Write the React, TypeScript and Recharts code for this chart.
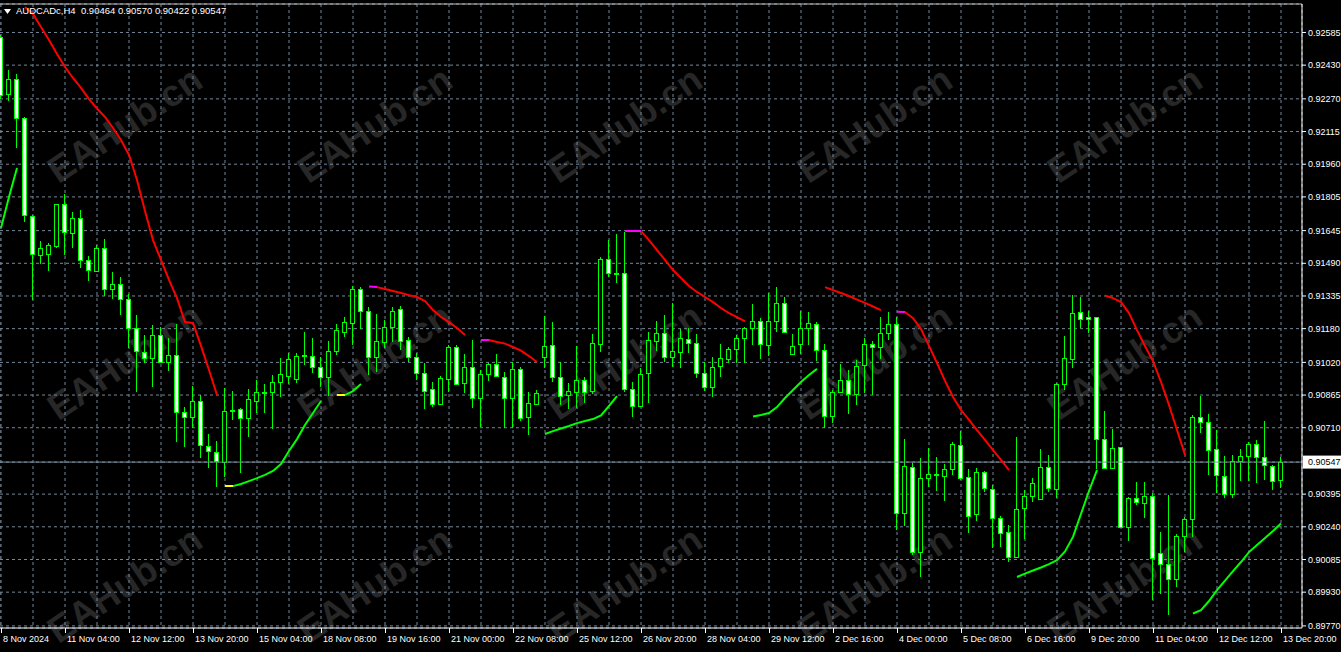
import React from "react";
import {
  ComposedChart, Bar, Line, XAxis, YAxis, CartesianGrid, ReferenceLine,
} from "recharts";

// AUDCADc H4, one bar per 4 hours, index 0 = 8 Nov 2024 00:00
const OPEN = [
  0.92565, 0.92292, 0.92363, 0.92181, 0.91716, 0.91529, 0.91533, 0.91573, 0.91770, 0.91632,
  0.91703, 0.91504, 0.91455, 0.91561, 0.91367, 0.91390, 0.91319, 0.91182, 0.91071, 0.91039,
  0.91150, 0.91020, 0.91055, 0.90783, 0.90759, 0.90838, 0.90625, 0.90596, 0.90549, 0.90789,
  0.90797, 0.90755, 0.90838, 0.90877, 0.90878, 0.90928, 0.90957, 0.90940, 0.91050, 0.91052,
  0.90997, 0.90949, 0.91075, 0.91165, 0.91208, 0.91367, 0.91264, 0.91047, 0.91118, 0.91186,
  0.91272, 0.91126, 0.91044, 0.90968, 0.90892, 0.90822, 0.90941, 0.91091, 0.90921, 0.90999,
  0.90852, 0.90963, 0.91011, 0.90952, 0.90852, 0.90989, 0.90762, 0.90822, 0.91047, 0.91102,
  0.90949, 0.90865, 0.90881, 0.90936, 0.90886, 0.91106, 0.91510, 0.91442, 0.91443, 0.90894,
  0.90814, 0.90968, 0.91123, 0.91158, 0.91047, 0.91071, 0.91132, 0.91110, 0.90968, 0.90905,
  0.91004, 0.91036, 0.91082, 0.91134, 0.91182, 0.91218, 0.91101, 0.91218, 0.91303, 0.91058,
  0.91106, 0.91182, 0.91200, 0.91079, 0.90766, 0.90881, 0.90936, 0.90868, 0.91006, 0.91106,
  0.91091, 0.91158, 0.91200, 0.90304, 0.90525, 0.90122, 0.90470, 0.90488, 0.90482, 0.90513,
  0.90628, 0.90475, 0.90299, 0.90498, 0.90418, 0.90280, 0.90214, 0.90095, 0.90328, 0.90387,
  0.90370, 0.90522, 0.90418, 0.90916, 0.91035, 0.91257, 0.91234, 0.91234, 0.90655, 0.90520,
  0.90617, 0.90240, 0.90375, 0.90351, 0.90387, 0.90114, 0.90062, 0.89991, 0.90196, 0.90275,
  0.90759, 0.90736, 0.90608, 0.90482, 0.90394, 0.90552, 0.90577, 0.90631, 0.90570, 0.90528,
  0.90464,
];

const HIGH = [
  0.92573, 0.92407, 0.92387, 0.92184, 0.91719, 0.91596, 0.91585, 0.91771, 0.91817, 0.91732,
  0.91743, 0.91526, 0.91577, 0.91605, 0.91450, 0.91425, 0.91343, 0.91245, 0.91150, 0.91197,
  0.91189, 0.91134, 0.91202, 0.90807, 0.90909, 0.90865, 0.90679, 0.90647, 0.90897, 0.90884,
  0.90805, 0.90892, 0.90936, 0.90917, 0.90960, 0.91039, 0.91066, 0.91066, 0.91165, 0.91134,
  0.91044, 0.91121, 0.91202, 0.91237, 0.91382, 0.91379, 0.91284, 0.91249, 0.91221, 0.91284,
  0.91287, 0.91142, 0.91063, 0.91016, 0.90928, 0.90955, 0.91102, 0.91102, 0.91058, 0.91126,
  0.90984, 0.91016, 0.91058, 0.90976, 0.91023, 0.90999, 0.90881, 0.90889, 0.91241, 0.91213,
  0.91020, 0.90921, 0.91098, 0.90952, 0.91155, 0.91521, 0.91600, 0.91629, 0.91640, 0.90928,
  0.90992, 0.91163, 0.91216, 0.91245, 0.91303, 0.91177, 0.91182, 0.91155, 0.91023, 0.91044,
  0.91107, 0.91094, 0.91150, 0.91189, 0.91297, 0.91229, 0.91348, 0.91376, 0.91332, 0.91155,
  0.91265, 0.91257, 0.91213, 0.91107, 0.90889, 0.91012, 0.90984, 0.91031, 0.91137, 0.91121,
  0.91234, 0.91257, 0.91237, 0.90655, 0.90544, 0.90565, 0.90612, 0.90570, 0.90538, 0.90644,
  0.90694, 0.90513, 0.90517, 0.90505, 0.90438, 0.90291, 0.90248, 0.90667, 0.90414, 0.90470,
  0.90607, 0.90581, 0.90921, 0.91145, 0.91340, 0.91332, 0.91265, 0.91235, 0.90789, 0.90702,
  0.90620, 0.90383, 0.90451, 0.90451, 0.90399, 0.90217, 0.90391, 0.90206, 0.90285, 0.90770,
  0.90860, 0.90775, 0.90699, 0.90576, 0.90581, 0.90607, 0.90644, 0.90652, 0.90742, 0.90533,
  0.90570,
];

const LOW = [
  0.92269, 0.92260, 0.92038, 0.91687, 0.91316, 0.91485, 0.91455, 0.91564, 0.91529, 0.91564,
  0.91466, 0.91406, 0.91453, 0.91336, 0.91321, 0.91245, 0.91087, 0.90881, 0.91016, 0.90905,
  0.91020, 0.90980, 0.90644, 0.90620, 0.90710, 0.90568, 0.90520, 0.90430, 0.90478, 0.90747,
  0.90494, 0.90667, 0.90781, 0.90781, 0.90702, 0.90857, 0.90917, 0.90924, 0.91007, 0.90971,
  0.90905, 0.90862, 0.91055, 0.91142, 0.91102, 0.91177, 0.90960, 0.90976, 0.91087, 0.91118,
  0.91079, 0.91023, 0.90936, 0.90797, 0.90810, 0.90818, 0.90881, 0.90913, 0.90873, 0.90805,
  0.90715, 0.90932, 0.90951, 0.90707, 0.90707, 0.90743, 0.90675, 0.90818, 0.90995, 0.90928,
  0.90818, 0.90799, 0.90802, 0.90826, 0.90870, 0.91071, 0.91423, 0.91395, 0.90878, 0.90762,
  0.90813, 0.90826, 0.91074, 0.91023, 0.90999, 0.90995, 0.91066, 0.90944, 0.90886, 0.90854,
  0.90949, 0.91016, 0.91018, 0.91018, 0.91102, 0.91035, 0.91050, 0.91165, 0.91158, 0.91055,
  0.91058, 0.91102, 0.91028, 0.90707, 0.90734, 0.90876, 0.90775, 0.90818, 0.90873, 0.90865,
  0.91035, 0.91126, 0.90225, 0.90244, 0.90106, 0.90000, 0.90430, 0.90411, 0.90364, 0.90486,
  0.90462, 0.90209, 0.90269, 0.90406, 0.90138, 0.90143, 0.90074, 0.90094, 0.90181, 0.90359,
  0.90369, 0.90406, 0.90375, 0.90889, 0.90995, 0.91182, 0.91161, 0.90514, 0.90513, 0.90519,
  0.90237, 0.90174, 0.90343, 0.90280, 0.89893, 0.89920, 0.89821, 0.89956, 0.90119, 0.90193,
  0.90686, 0.90486, 0.90399, 0.90375, 0.90375, 0.90459, 0.90459, 0.90449, 0.90462, 0.90414,
  0.90422,
];

const CLOSE = [
  0.92288, 0.92363, 0.92178, 0.91719, 0.91533, 0.91564, 0.91575, 0.91770, 0.91637, 0.91703,
  0.91504, 0.91457, 0.91563, 0.91368, 0.91392, 0.91319, 0.91182, 0.91074, 0.91039, 0.91150,
  0.91023, 0.91055, 0.90783, 0.90762, 0.90838, 0.90628, 0.90600, 0.90552, 0.90791, 0.90796,
  0.90755, 0.90845, 0.90881, 0.90881, 0.90928, 0.90963, 0.91035, 0.91050, 0.91053, 0.90997,
  0.90949, 0.91075, 0.91173, 0.91210, 0.91367, 0.91265, 0.91047, 0.91121, 0.91186, 0.91264,
  0.91123, 0.91044, 0.90968, 0.90886, 0.90822, 0.90944, 0.91091, 0.90916, 0.90999, 0.90850,
  0.90963, 0.91011, 0.90957, 0.90852, 0.90989, 0.90757, 0.90826, 0.90873, 0.91098, 0.90949,
  0.90862, 0.90886, 0.90936, 0.90881, 0.91110, 0.91510, 0.91443, 0.91439, 0.90894, 0.90814,
  0.90963, 0.91126, 0.91158, 0.91047, 0.91074, 0.91134, 0.91110, 0.90968, 0.90905, 0.90999,
  0.91039, 0.91082, 0.91134, 0.91182, 0.91218, 0.91106, 0.91218, 0.91300, 0.91163, 0.91099,
  0.91182, 0.91205, 0.91079, 0.90766, 0.90881, 0.90936, 0.90868, 0.91003, 0.91106, 0.91091,
  0.91158, 0.91200, 0.90304, 0.90530, 0.90122, 0.90470, 0.90489, 0.90489, 0.90513, 0.90633,
  0.90470, 0.90293, 0.90498, 0.90423, 0.90280, 0.90209, 0.90098, 0.90323, 0.90387, 0.90446,
  0.90522, 0.90423, 0.90916, 0.91039, 0.91253, 0.91224, 0.91224, 0.90655, 0.90521, 0.90612,
  0.90238, 0.90375, 0.90356, 0.90387, 0.90090, 0.90062, 0.89991, 0.90196, 0.90275, 0.90759,
  0.90736, 0.90604, 0.90486, 0.90396, 0.90552, 0.90577, 0.90631, 0.90570, 0.90533, 0.90459,
  0.90547,
];

// indicator segments: first bar index + values per bar
const RED_SEGS: [number, number[]][] = [
  [3, [0.92706, 0.92673, 0.92611, 0.92549, 0.92483, 0.92421, 0.92369, 0.92322, 0.92269, 0.92224,
    0.92184, 0.92132, 0.92075, 0.92004, 0.91885, 0.91738, 0.91600, 0.91506, 0.91411, 0.91325,
    0.91211, 0.91207, 0.91098, 0.90984, 0.90865]],
  [47, [0.91377, 0.91368, 0.91359, 0.91349, 0.91339, 0.91330, 0.91311, 0.91268, 0.91235, 0.91211,
    0.91183, 0.91150]],
  [61, [0.91126, 0.91117, 0.91109, 0.91093, 0.91076, 0.91050, 0.91022]],
  [80, [0.91643, 0.91600, 0.91553, 0.91506, 0.91458, 0.91420, 0.91382, 0.91354, 0.91330, 0.91306,
    0.91278, 0.91254, 0.91235, 0.91214]],
  [103, [0.91377, 0.91363, 0.91349, 0.91335, 0.91318, 0.91302, 0.91285, 0.91268]],
  [113, [0.91259, 0.91230, 0.91178, 0.91098, 0.91017, 0.90932, 0.90856, 0.90794, 0.90747, 0.90699,
    0.90652, 0.90604, 0.90557, 0.90509]],
  [138, [0.91337, 0.91325, 0.91306, 0.91254, 0.91173, 0.91098, 0.91026, 0.90927, 0.90818, 0.90699,
    0.90581]],
];

const GREEN_SEGS: [number, number[]][] = [
  [0, [0.91657, 0.91804, 0.91942]],
  [29, [0.90433, 0.90443, 0.90457, 0.90471, 0.90486, 0.90505, 0.90538, 0.90600, 0.90656, 0.90723,
    0.90780, 0.90837]],
  [43, [0.90865, 0.90884, 0.90917]],
  [68, [0.90680, 0.90694, 0.90706, 0.90718, 0.90732, 0.90742, 0.90751, 0.90768, 0.90813, 0.90860]],
  [94, [0.90763, 0.90770, 0.90780, 0.90808, 0.90851, 0.90889, 0.90927, 0.90960, 0.90989]],
  [127, [0.90002, 0.90018, 0.90033, 0.90047, 0.90063, 0.90082, 0.90123, 0.90192, 0.90301, 0.90410,
    0.90509]],
  [149, [0.89829, 0.89845, 0.89888, 0.89940, 0.89985, 0.90030, 0.90073, 0.90120, 0.90154, 0.90187,
    0.90220, 0.90256]],
];

const YELLOW_SEGS: [number, number[]][] = [
  [28, [0.90433, 0.90433]],
  [42, [0.90865, 0.90865]],
];

const MAGENTA_SEGS: [number, number[]][] = [
  [46, [0.91380, 0.91377]],
  [60, [0.91126, 0.91126]],
  [78, [0.91643, 0.91643, 0.91643]],
  [112, [0.91260, 0.91259]],
];

const TIME_LABELS = [
  "8 Nov 2024", "11 Nov 04:00", "12 Nov 12:00", "13 Nov 20:00", "15 Nov 04:00", "18 Nov 08:00",
  "19 Nov 16:00", "21 Nov 00:00", "22 Nov 08:00", "25 Nov 12:00", "26 Nov 20:00", "28 Nov 04:00",
  "29 Nov 12:00", "2 Dec 16:00", "4 Dec 00:00", "5 Dec 08:00", "6 Dec 16:00", "9 Dec 20:00",
  "11 Dec 04:00", "12 Dec 12:00", "13 Dec 20:00",
];

const PRICE_TICKS = [
  0.92585, 0.92430, 0.92270, 0.92115, 0.91960, 0.91805, 0.91645, 0.91490, 0.91335, 0.91180,
  0.91020, 0.90865, 0.90710, 0.90395, 0.90240, 0.90085, 0.89930, 0.89770,
];

const SYMBOL = "AUDCADc,H4";
const LAST = CLOSE.length - 1;
const CURRENT = CLOSE[LAST];

const Y_MIN = 0.8976;
const Y_MAX = 0.9272;
const X_MIN = -0.125;
const X_MAX = 162.625;

const WICK = "#00ff00";
const GRID = "#778899";
const FONT = "'Liberation Sans', Arial, sans-serif";

type Row = {
  idx: number; open: number; high: number; low: number; close: number;
  range: [number, number];
  red: number | null; green: number | null; yellow: number | null; magenta: number | null;
};

const rows: Row[] = OPEN.map((o, i) => ({
  idx: i, open: o, high: HIGH[i], low: LOW[i], close: CLOSE[i],
  range: [LOW[i], HIGH[i]],
  red: null, green: null, yellow: null, magenta: null,
}));

function fillSegs(key: "red" | "green" | "yellow" | "magenta", segs: [number, number[]][]) {
  for (const [start, vals] of segs) vals.forEach((v, k) => { rows[start + k][key] = v; });
}
fillSegs("red", RED_SEGS);
fillSegs("green", GREEN_SEGS);
fillSegs("yellow", YELLOW_SEGS);
fillSegs("magenta", MAGENTA_SEGS);

const xTicks: number[] = [];
for (let i = 0; i < OPEN.length; i += 4) xTicks.push(i);
const yTicks = [...PRICE_TICKS, CURRENT];

function Candle(props: any) {
  const { x, y, width, height, payload } = props;
  if (!payload || x == null) return null;
  const { open, close, high, low } = payload as Row;
  const top0 = Math.min(y, y + height);
  const h = Math.abs(height);
  const k = high > low ? h / (high - low) : 0;
  const yOf = (v: number) => top0 + (high - v) * k;
  const cx = Math.floor(x + width / 2);
  const bTop = Math.round(yOf(Math.max(open, close)));
  const bBot = Math.round(yOf(Math.min(open, close)));
  const bull = close >= open;
  return (
    <g shapeRendering="crispEdges">
      <line x1={cx + 0.5} x2={cx + 0.5} y1={Math.round(top0)} y2={Math.round(top0 + h)} stroke={WICK} strokeWidth={1} />
      {bBot - bTop < 1 ? (
        <line x1={cx - 2} x2={cx + 3} y1={bTop + 0.5} y2={bTop + 0.5} stroke={WICK} strokeWidth={1} />
      ) : (
        <rect x={cx - 1.5} y={bTop + 0.5} width={4} height={bBot - bTop}
          fill={bull ? "#000000" : "#ffffff"} stroke={WICK} strokeWidth={1} />
      )}
    </g>
  );
}

function XTick(props: any) {
  const { x, y, payload } = props;
  const i = payload?.value as number;
  if (i % 8 !== 0) return <g />;
  return (
    <g>
      <line x1={x + 0.5} x2={x + 0.5} y1={y} y2={y + 5} stroke="#ffffff" strokeWidth={1} />
      <text x={x + 2} y={y + 13.5} fill="#ffffff" fontSize={9} fontFamily={FONT}>{TIME_LABELS[i / 8]}</text>
    </g>
  );
}

function YTick(props: any) {
  const { x, y, payload } = props;
  const v = payload?.value as number;
  if (v === CURRENT) {
    return (
      <g>
        <rect x={x + 1} y={y - 6.5} width={38} height={13} fill="#ffffff" />
        <text x={x + 6} y={y} dy="0.35em" fill="#000000" fontSize={9} fontFamily={FONT}>{v.toFixed(5)}</text>
      </g>
    );
  }
  return (
    <g>
      <line x1={x} x2={x + 4} y1={y} y2={y} stroke="#ffffff" strokeWidth={1} />
      <text x={x + 6} y={y} dy="0.35em" fill="#ffffff" fontSize={9} fontFamily={FONT}>{v.toFixed(5)}</text>
    </g>
  );
}

// faint site watermark, tiled behind the chart
function Watermarks() {
  const marks = [];
  const rowsY = [125, 362, 585];
  for (let r = 0; r < rowsY.length; r++) {
    for (let c = 0; c < 5; c++) {
      marks.push(
        <div key={`${r}-${c}`} style={{
          position: "absolute", left: 125 + 250 * c - 100, top: rowsY[r] - 25, width: 200,
          textAlign: "center", transform: "rotate(-34deg)", fontFamily: FONT, fontWeight: 700,
          fontSize: 37, lineHeight: "50px", color: "#272727", whiteSpace: "nowrap",
        }}>EAHub.cn</div>
      );
    }
  }
  return <>{marks}</>;
}

export default function App() {
  const title = `${SYMBOL}  ${OPEN[LAST].toFixed(5)} ${HIGH[LAST].toFixed(5)} ${LOW[LAST].toFixed(5)} ${CLOSE[LAST].toFixed(5)}`;
  return (
    <div style={{ position: "fixed", left: 0, top: 0, width: 1341, height: 652, background: "#000", overflow: "hidden" }}>
      <Watermarks />
      <div style={{ position: "absolute", left: 0, top: 0 }}>
        <ComposedChart width={1341} height={652} data={rows} margin={{ top: 4, right: 0, bottom: 0, left: 0 }}>
          <CartesianGrid stroke={GRID} strokeDasharray="3 3" />
          <XAxis type="number" dataKey="idx" domain={[X_MIN, X_MAX]} allowDataOverflow ticks={xTicks}
            interval={0} tick={<XTick />} tickLine={false} tickSize={0} tickMargin={0} height={24}
            axisLine={{ stroke: "#ffffff" }} />
          <YAxis type="number" orientation="right" domain={[Y_MIN, Y_MAX]} allowDataOverflow ticks={yTicks}
            interval={0} tick={<YTick />} tickLine={false} tickSize={0} tickMargin={0} width={39}
            axisLine={{ stroke: "#ffffff" }} />
          <ReferenceLine y={Y_MAX} stroke="#bdbdbd" />
          <ReferenceLine y={CURRENT} stroke={GRID} />
          <Bar dataKey="range" barSize={5} shape={<Candle />} isAnimationActive={false} />
          <Line dataKey="yellow" stroke="#ffff00" strokeWidth={2} dot={false} activeDot={false} isAnimationActive={false} />
          <Line dataKey="magenta" stroke="#ff00ff" strokeWidth={2} dot={false} activeDot={false} isAnimationActive={false} />
          <Line dataKey="green" stroke="#00ff00" strokeWidth={2} dot={false} activeDot={false} isAnimationActive={false} />
          <Line dataKey="red" stroke="#ff0000" strokeWidth={2} dot={false} activeDot={false} isAnimationActive={false} />
        </ComposedChart>
      </div>
      <div style={{ position: "absolute", left: 4, top: 5, display: "flex", alignItems: "center", gap: 5,
        color: "#ffffff", fontFamily: FONT, fontSize: 9.5, lineHeight: "12px", whiteSpace: "pre" }}>
        <svg width={7} height={5}><polygon points="0,0 7,0 3.5,5" fill="#ffffff" /></svg>
        <span>{title}</span>
      </div>
    </div>
  );
}
